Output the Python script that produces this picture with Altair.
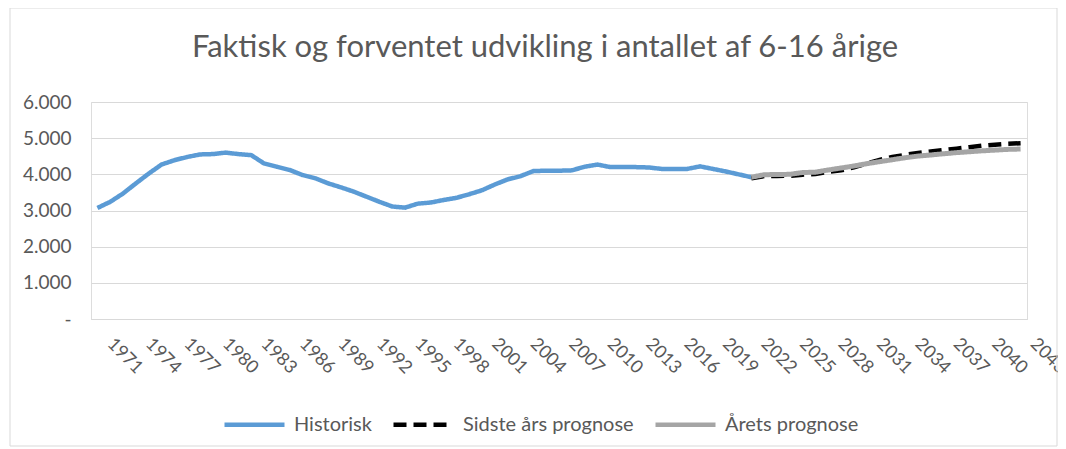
import altair as alt
import pandas as pd

# ---- data ----
series_names = ["Historisk", "Sidste års prognose", "Årets prognose"]
series_colors = ["#5B9BD5", "#000000", "#A5A5A5"]

hist_years = list(range(1971, 2023))
hist_values = [3070, 3240, 3470, 3750, 4020, 4270, 4390, 4480, 4550, 4560,
               4600, 4560, 4530, 4300, 4210, 4120, 3980, 3890, 3750, 3640,
               3520, 3380, 3240, 3110, 3080, 3190, 3220, 3290, 3350, 3450,
               3560, 3720, 3860, 3950, 4090, 4100, 4100, 4110, 4210, 4270,
               4200, 4200, 4200, 4190, 4150, 4150, 4150, 4220, 4150, 4080,
               4000, 3920]

prog_years = list(range(2022, 2044))
last_year_forecast = [3890, 3950, 3955, 3960, 3990, 4010, 4070, 4110, 4195, 4300,
                      4400, 4480, 4540, 4590, 4630, 4670, 4710, 4750, 4790, 4820,
                      4845, 4860]
this_year_forecast = [3920, 3990, 3995, 4000, 4050, 4060, 4120, 4175, 4230, 4295,
                      4350, 4405, 4460, 4505, 4535, 4570, 4600, 4625, 4650, 4670,
                      4690, 4700]

tick_years = list(range(1971, 2044, 3))
y_ticks = [0, 1000, 2000, 3000, 4000, 5000, 6000]

rows = []
for yr, v in zip(hist_years, hist_values):
    rows.append({"year": yr, "value": v, "serie": series_names[0]})
for yr, v in zip(prog_years, last_year_forecast):
    rows.append({"year": yr, "value": v, "serie": series_names[1]})
for yr, v in zip(prog_years, this_year_forecast):
    rows.append({"year": yr, "value": v, "serie": series_names[2]})
df = pd.DataFrame(rows)

FONT = "Lato"
TXT = "#595959"
GRID = "#D9D9D9"

x_enc = alt.X(
    "year:Q",
    scale=alt.Scale(domain=[1970.5, 2043.5], nice=False, zero=False),
    axis=alt.Axis(values=tick_years, format="d", labelAngle=45, labelAlign="left",
                  labelBaseline="middle", labelPadding=22, labelOffset=12,
                  ticks=False, tickSize=0, grid=False, domainColor=GRID, domainWidth=1,
                  labelColor=TXT, labelFont=FONT, labelFontSize=18,
                  labelOverlap=False, labelBound=False, labelFlush=False, title=None),
)
y_enc = alt.Y(
    "value:Q",
    scale=alt.Scale(domain=[0, 6000], nice=False),
    axis=alt.Axis(values=y_ticks,
                  labelExpr="datum.value == 0 ? '-\u00a0\u00a0' : replace(format(datum.value, ','), ',', '.')",
                  domain=False, ticks=False, tickSize=0, gridColor=GRID, gridWidth=1,
                  labelPadding=20, labelColor=TXT, labelFont=FONT, labelFontSize=19,
                  title=None),
)
legend = alt.Legend(title=None, orient="none", legendX=131, legendY=290,
                    direction="horizontal", symbolType="stroke", symbolSize=3600,
                    symbolStrokeWidth=4.5, labelFont=FONT, labelFontSize=20,
                    labelColor=TXT, labelOffset=7, labelLimit=400, columnPadding=12,
                    padding=0)
color_enc = alt.Color("serie:N", scale=alt.Scale(domain=series_names, range=series_colors),
                      legend=legend)
dash_enc = alt.StrokeDash("serie:N",
                          scale=alt.Scale(domain=series_names,
                                          range=[[1, 0], [13, 7], [1, 0]]),
                          legend=legend)

def layer(name, width):
    return alt.Chart(df).transform_filter(alt.datum.serie == name).mark_line(
        strokeWidth=width).encode(x=x_enc, y=y_enc, color=color_enc, strokeDash=dash_enc)

frame = alt.Chart(pd.DataFrame({"a": [0]})).mark_rect(
    fill=None, stroke=GRID, strokeWidth=1).encode(
    x=alt.value(-81), x2=alt.value(966), y=alt.value(-94), y2=alt.value(344))

chart = alt.layer(
    frame, layer(series_names[0], 4.5), layer(series_names[1], 4.5),
    layer(series_names[2], 5)
).properties(
    width=936, height=217,
    title=alt.TitleParams("Faktisk og forventet udvikling i antallet af 6-16 årige",
                          font=FONT, fontSize=31, fontWeight="normal", color=TXT,
                          anchor="middle", baseline="alphabetic", dx=-14, offset=0,
                          dy=80),
    padding={"left": 83, "top": 94, "right": 31, "bottom": 128},
    autosize=alt.AutoSizeParams(type="none"),
).configure_view(stroke=None).configure(background="white")

chart.save("out.html", embed_options={"renderer": "svg", "actions": False})
